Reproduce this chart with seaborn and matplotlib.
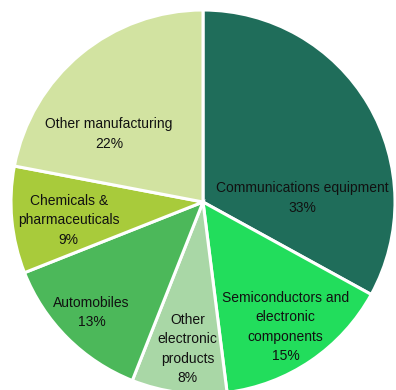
"""
Pie chart: share of output by industry.
"""

import matplotlib
matplotlib.use("Agg")
import matplotlib.pyplot as plt
import numpy as np
import seaborn as sns

# ---- data ----
categories = [
    "Communications equipment",
    "Semiconductors and\nelectronic\ncomponents",
    "Other\nelectronic\nproducts",
    "Automobiles",
    "Chemicals &\npharmaceuticals",
    "Other manufacturing",
]
shares = [33, 15, 8, 13, 9, 22]

# ---- styles ----
colors = sns.color_palette([
    "#1F6D5A",  # communications
    "#22DD5C",  # semiconductors
    "#A9D7A6",  # other electronic
    "#4CB85A",  # automobiles
    "#A8CB3B",  # chemicals
    "#D2E3A1",  # other manufacturing
])

# label anchor positions (x, y), in pie-radius units
label_pos = [
    (0.515, 0.02),
    (0.43, -0.65),
    (-0.08, -0.765),
    (-0.58, -0.575),
    (-0.70, -0.095),
    (-0.49, 0.355),
]

sns.set_theme(style="white")
plt.rcParams["font.family"] = ["Liberation Sans", "DejaVu Sans"]

fig = plt.figure(figsize=(3.96, 3.90), dpi=100)
ax = fig.add_axes([0, 0, 1, 1])

wedges, _ = ax.pie(
    shares,
    colors=colors,
    startangle=90,
    counterclock=False,
    radius=1.0,
    wedgeprops=dict(edgecolor="white", linewidth=2.2),
)

for (x, y), name, v in zip(label_pos, categories, shares):
    ax.text(x, y, f"{name}\n{v}%", ha="center", va="center",
            fontsize=10, color="#111111", linespacing=1.5)

# pixel mapping: centre at (203, 202), radius 192 px
r_px = 192.0
ax.set_xlim(-203 / r_px, (396 - 203) / r_px)
ax.set_ylim(-(390 - 202) / r_px, 202 / r_px)
ax.set_aspect("auto")
ax.axis("off")

fig.savefig("out.png", dpi=100)
plt.close(fig)
